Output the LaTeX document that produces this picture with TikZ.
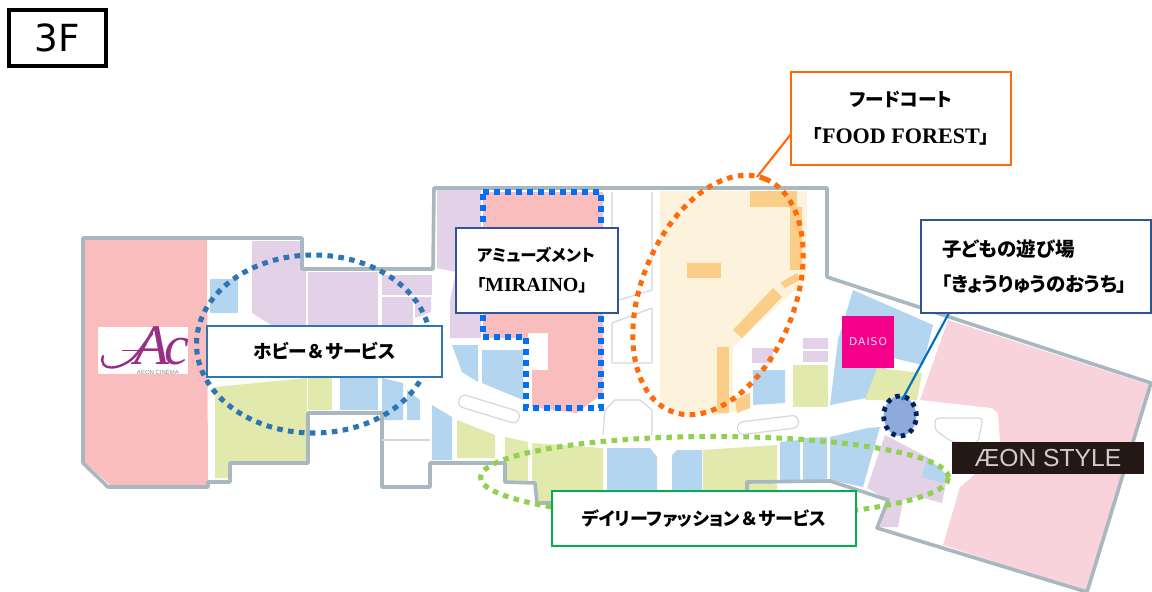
\documentclass[tikz,border=0pt]{standalone}
\usepackage{fontspec}
\usetikzlibrary{shapes.geometric}
\setmainfont{Liberation Sans}
\newfontfamily\cjk[RawFeature=+palt]{Noto Sans CJK JP}
\newfontfamily\cjkfull{Noto Sans CJK JP}
\newfontfamily\srf{Liberation Serif}
\newfontfamily\djv{DejaVu Sans}
\definecolor{cinemapink}{HTML}{F9BDBD}
\definecolor{aeonpink}{HTML}{F9D3DC}
\definecolor{shoppurple}{HTML}{E2D1E7}
\definecolor{shopblue}{HTML}{B3D5EF}
\definecolor{shopgreen}{HTML}{E1E9AC}
\definecolor{foodcream}{HTML}{FDF3DD}
\definecolor{foodorange}{HTML}{FACE88}
\definecolor{wallgrey}{HTML}{A8B7C0}
\definecolor{thingrey}{HTML}{D6D6DE}
\definecolor{hobbyblue}{HTML}{2E75B6}
\definecolor{amuseblue}{HTML}{0070F8}
\definecolor{boxblue}{HTML}{2F5597}
\definecolor{foodline}{HTML}{FF6A0A}
\definecolor{dailygreen}{HTML}{92D050}
\definecolor{labelgreen}{HTML}{00B050}
\definecolor{kidsfill}{HTML}{8EA9DB}
\definecolor{kidsdark}{HTML}{002060}
\definecolor{kidsline}{HTML}{0070C0}
\definecolor{daisopink}{HTML}{F5008B}
\definecolor{aeonbar}{HTML}{231815}
\definecolor{acpurple}{HTML}{9A2F86}
\tikzset{
  wall/.style={draw=wallgrey,line width=2.7pt,line join=round},
  thin outline/.style={draw=thingrey,line width=0.9pt,line join=round},
  zone/.style={shape=ellipse,inner sep=0pt,outer sep=0pt,line width=3.8pt,dash pattern=on 4.2pt off 4.05pt},
  lblbox/.style={draw,fill=white,inner sep=0pt,outer sep=0pt,line width=1.2pt,font=\cjk\bfseries},
  leader/.style={line width=1.6pt},
  pill/.style={thin outline,draw=thingrey,rounded corners=4.5pt,inner sep=0pt,minimum height=9.5pt},
}
\begin{document}
\begin{tikzpicture}[x=0.75pt,y=-0.75pt]
\useasboundingbox (0,0) rectangle (1152,592);
\fill[white] (0,0) rectangle (1152,592);
% === map regions ===
\fill[cinemapink] (84,240)--(207,240)--(208,485)--(110,485)--(84,462)--cycle;
\fill[cinemapink] (483,192)--(603,192)--(603,393)--(577,413)--(532,407)--(532,370)--(548,370)--(548,333)--(528,333)--(528,338)--(483,338)--cycle;
\fill[aeonpink] (948,320)--(1150,385)--(1087,592)--(943,545)--(960,487)--(972,477)--(1000,443)--(998,413)--(992,408)--(920,400)--cycle;
% purple
\fill[shoppurple] (252,241)--(302,241)--(302,271)--(306,271)--(306,326)--(273,326)--(252,313)--cycle;
\fill[shoppurple] (308,272)--(378,272)--(378,326)--(308,326)--cycle;
\fill[shoppurple] (382,275)--(432,275)--(432,295)--(382,295)--cycle;
\fill[shoppurple] (382,297)--(413,297)--(413,326)--(382,326)--cycle;
\fill[shoppurple] (415,297)--(431,297)--(431,312)--(415,318)--cycle;
\fill[shoppurple] (437,190)--(481,190)--(481,338)--(450,338)--(450,300)--(456,272)--(437,268)--cycle;
\fill[shoppurple] (752,348)--(773,348)--(773,363)--(752,363)--cycle;
\fill[shoppurple] (803,338)--(828,338)--(828,349)--(803,349)--cycle;
\fill[shoppurple] (803,351)--(828,351)--(828,362)--(803,362)--cycle;
\fill[shoppurple] (643,472)--(657,472)--(657,491)--(643,491)--cycle;
\fill[shoppurple] (885,435)--(927,457)--(947,477)--(942,503)--(920,497)--(903,500)--(898,527)--(880,527)--(888,500)--(867,488)--cycle;
% blue
\fill[shopblue] (210,279)--(238,279)--(238,313)--(210,313)--cycle;
\fill[shopblue] (340,378)--(378,378)--(378,410)--(340,410)--cycle;
\fill[shopblue] (382,378)--(403,383)--(403,420)--(382,420)--cycle;
\fill[shopblue] (407,390)--(420,400)--(420,420)--(407,420)--cycle;
\fill[shopblue] (452,345)--(478,345)--(478,382)--(462,372)--cycle;
\fill[shopblue] (482,350)--(523,350)--(523,400)--(482,383)--cycle;
\fill[shopblue] (432,405)--(452,417)--(452,460)--(432,460)--cycle;
\fill[shopblue] (607,448)--(650,448)--(657,457)--(657,491)--(607,491)--cycle;
\fill[shopblue] (672,455)--(677,450)--(702,450)--(702,491)--(672,491)--cycle;
\fill[shopblue] (780,442)--(800,440)--(800,482)--(780,482)--cycle;
\fill[shopblue] (803,438)--(827,437)--(827,480)--(803,480)--cycle;
\fill[shopblue] (830,437)--(868,428)--(880,427)--(863,487)--(830,480)--cycle;
\fill[shopblue] (753,370)--(785,370)--(785,403)--(753,405)--cycle;
\fill[shopblue] (853,290)--(933,325)--(923,365)--(893,358)--(866,398)--(830,405)--(838,340)--cycle;
% green
\fill[shopgreen] (215,387)--(307,378)--(307,461)--(230,461)--(230,478)--(215,478)--cycle;
\fill[shopgreen] (308,378)--(332,378)--(332,410)--(308,410)--cycle;
\fill[shopgreen] (457,420)--(495,435)--(495,458)--(457,458)--cycle;
\fill[shopgreen] (505,437)--(528,442)--(528,482)--(505,482)--cycle;
\fill[shopgreen] (532,443)--(603,448)--(603,491)--(551,491)--(551,503)--(537,503)--(535,483)--(532,483)--cycle;
\fill[shopgreen] (703,450)--(777,445)--(777,491)--(703,491)--cycle;
\fill[shopgreen] (793,365)--(828,365)--(828,407)--(793,407)--cycle;
\fill[shopgreen] (877,368)--(922,373)--(917,400)--(865,400)--cycle;
\fill[shopblue] (927,457)--(947,475)--(943,483)--(922,477)--cycle;
% food court
\fill[foodcream] (660,191)--(807,191)--(806,280)--(733,347)--(733,395)--(750,393)--(750,408)--(720,415)--(680,415)--(660,400)--cycle;
\fill[foodorange] (750,191)--(797,191)--(797,207)--(750,207)--cycle;
\fill[foodorange] (790,207)--(802,207)--(802,270)--(790,270)--cycle;
\fill[foodorange] (780,283)--(797,273)--(800,280)--(785,288)--cycle;
\fill[foodorange] (733,330)--(773,288)--(782,297)--(742,338)--cycle;
\fill[foodorange] (687,263)--(721,263)--(721,278)--(687,278)--cycle;
\fill[foodorange] (717,347)--(729,347)--(729,413)--(717,413)--cycle;
\fill[foodorange] (735,400)--(750,393)--(750,408)--(737,413)--cycle;
% thin outlined voids
\path[thin outline] (612,192)--(612,302)--(652,290)--(652,192);
\path[thin outline] (612,323)--(652,308)--(652,363)--(612,363)--cycle;
\path[thin outline] (603,435)--(605,410)--(615,400)--(640,400)--(652,410)--(652,435);
\path[thin outline,rounded corners=3pt] (935,418)--(983,418)--(978,443)--(952,442)--(935,430)--cycle;
\node[pill,rotate=-17,minimum width=47pt] (pillwest) at (489,409) {};
\node[pill,rotate=7,minimum width=46pt] (pilleast) at (768,425) {};
% building wall
\path[wall] (83,238)--(302,238)--(302,269)--(433,269)--(434,188)--(827,188)--(827,277)--(1151,383)--(1087,592)
  --(877,528)--(888,500)--(830,481)--(747,482)--(747,503)--(537,503)--(535,483)--(505,482)--(505,463)--(430,463)
  --(430,487)--(382,487)--(382,413)--(308,413)--(308,463)--(230,463)--(230,482)--(208,482)--(208,487)--(108,487)--(83,463)--cycle;
\path[thin outline] (382,440)--(430,440);
% === zones ===
\node[zone,draw=hobbyblue,minimum width=175.5pt,minimum height=133.5pt] (hobbyzone) at (313.5,344) {};
\path[draw=amuseblue,line width=3.8pt,dash pattern=on 4.2pt off 4.05pt] (483,192)--(601,192)--(601,408)--(526,408)--(526,337)--(483,337)--cycle;
\node[zone,draw=foodline,rotate=68,minimum width=188pt,minimum height=115pt] (foodzone) at (718,295) {};
\node[zone,draw=dailygreen,minimum width=351pt,minimum height=61.5pt] (dailyzone) at (714.5,477.5) {};
\node[zone,draw=kidsdark,fill=kidsfill,minimum width=24.5pt,minimum height=30pt,line width=3.6pt,dash pattern=on 3.4pt off 3.8pt] (kidszone) at (900,416) {};
% === logos ===
\node[fill=white,inner sep=0pt,minimum width=67.5pt,minimum height=35.25pt] (aclogo) at (143,350.5) {};
\draw[acpurple,line width=1.8pt,line cap=round] (103,356) .. controls (98,372) and (120,370) .. (133,358) .. controls (141,350) and (146,340) .. (152,334);
\draw[acpurple,line width=0.6pt] (122,350)--(158,350);
\node[text=acpurple,font=\srf\itshape\fontsize{43}{43}\selectfont,inner sep=0pt,anchor=base] (acA) at (152,364) {A};
\node[text=acpurple,font=\srf\itshape\fontsize{42}{42}\selectfont,inner sep=0pt,anchor=base] (acC) at (177,364) {c};
\node[text=black!45,font=\fontsize{4.5}{5}\selectfont,inner sep=0pt] (acname) at (158,372) {AEON CINEMA};
\node[fill=daisopink,inner sep=0pt,minimum width=39pt,minimum height=39pt,text=white!85!daisopink,font=\djv\fontsize{8}{8}\selectfont] (daiso) at (868,342) {\addfontfeatures{LetterSpace=10}DAISO};
\node[fill=aeonbar,inner sep=0pt,minimum width=144pt,minimum height=24pt,text=white!78!aeonbar,font=\fontsize{18.5}{20}\selectfont] (aeon) at (1048,458) {ÆON STYLE};
% === leaders ===
\coordinate (foodtip) at (757,177);
\coordinate (foodport) at (791,134);
\coordinate (kidstip) at (902,400);
\coordinate (kidsport) at (949,313);
\draw[leader,foodline] (foodport)--(foodtip);
\draw[leader,kidsline] (kidsport)--(kidstip);
% === labels ===
\node[draw=black,line width=3pt,inner sep=0pt,minimum width=72.75pt,minimum height=42pt,font=\djv\fontsize{28}{28}\selectfont] (floor) at (57.5,38) {3F\hspace{8pt}};
\node[lblbox,draw=hobbyblue,minimum width=176.25pt,minimum height=38.25pt,font=\cjk\bfseries\fontsize{14}{16}\selectfont] (hobby) at (324.5,351.5) {ホビー{\cjkfull\bfseries ＆}サービス};
\node[lblbox,draw=boxblue,text width=90pt,inner xsep=15.75pt,minimum height=63.75pt,align=left,font=\cjk\bfseries\fontsize{12.3}{22.5}\selectfont] (amuse) at (537,270.5) {アミューズメント\\「{\srf\bfseries\fontsize{15}{22.5}\selectfont MIRAINO}」};
\node[lblbox,draw=foodline,minimum width=165pt,minimum height=69.75pt,align=center,font=\cjk\bfseries\fontsize{14}{27.75}\selectfont] (foodlabel) at (901,118.5) {フードコート\\「{\srf\bfseries\fontsize{16.6}{27.75}\selectfont FOOD FOREST}」};
\node[lblbox,draw=boxblue,text width=141pt,inner xsep=15.75pt,minimum height=70pt,align=left,font=\cjk\bfseries\fontsize{14.6}{26}\selectfont] (kids) at (1036,266.5) {子どもの遊び場\\「きょうりゅうのおうち」};
\node[lblbox,draw=labelgreen,minimum width=228pt,minimum height=41.25pt,font=\cjk\bfseries\fontsize{13.5}{16}\selectfont] (daily) at (704,518.5) {デイリーファッション{\cjkfull\bfseries ＆}サービス};
\end{tikzpicture}
\end{document}
